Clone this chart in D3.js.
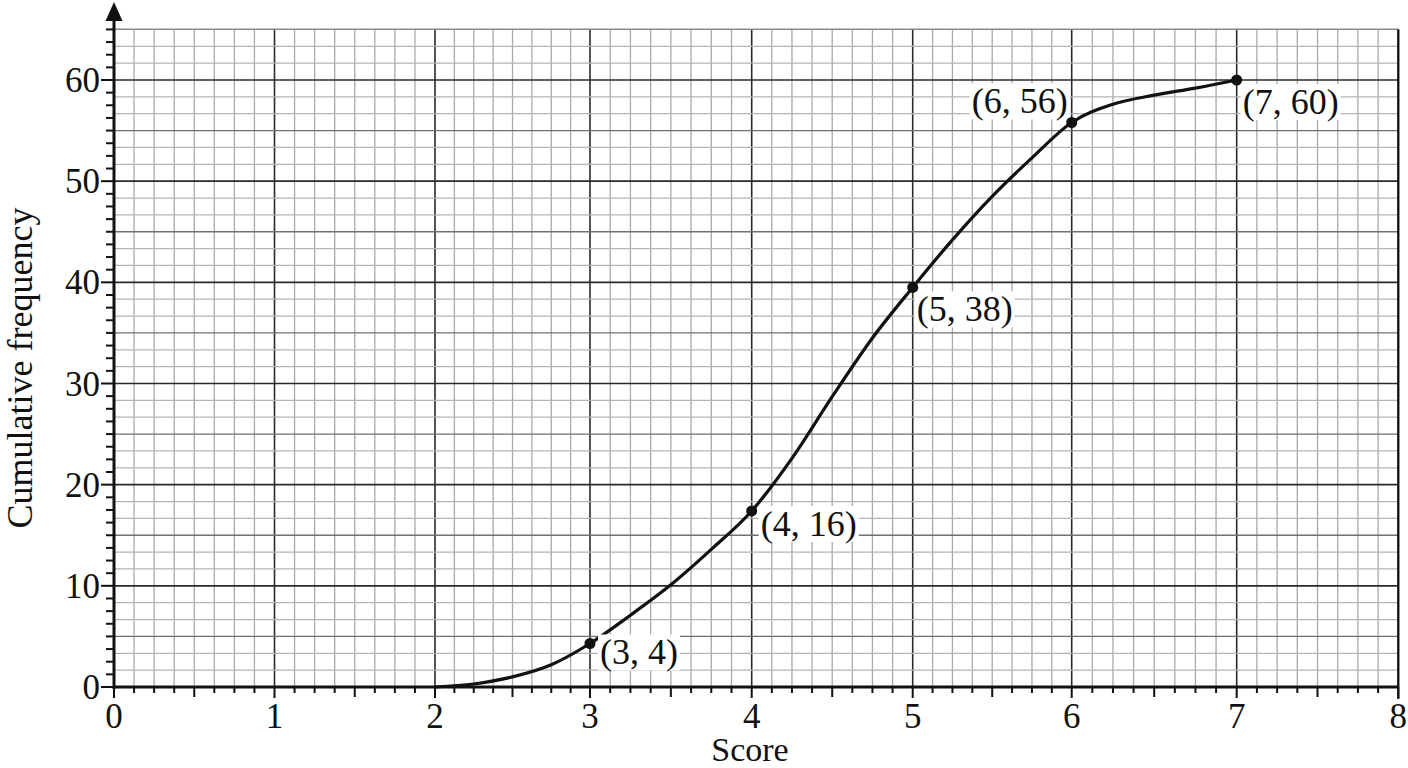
<!DOCTYPE html>
<html>
<head>
<meta charset="utf-8">
<script src="https://cdn.jsdelivr.net/npm/d3@7"></script>
<style>
  html, body { margin: 0; padding: 0; background: #fff; }
  svg { display: block; }
  text { font-family: "Liberation Serif", "Times New Roman", Times, serif; fill: #111; }
</style>
</head>
<body>
<svg id="chart" width="1408" height="768"></svg>
<script>
// ---- data ----
const xTickValues = [0, 1, 2, 3, 4, 5, 6, 7, 8];
const yTickValues = [0, 10, 20, 30, 40, 50, 60];
const xLabel = "Score";
const yLabel = "Cumulative frequency";

const pointX = [3, 4, 5, 6, 7];
const pointY = [4.3, 17.4, 39.5, 55.8, 60];
const pointLabels = ["(3, 4)", "(4, 16)", "(5, 38)", "(6, 56)", "(7, 60)"];

// curve
const curveX = [2, 2.25, 2.5, 2.75, 3, 3.25, 3.5, 3.75, 4, 4.25, 4.5, 4.75, 5, 5.25, 5.5, 5.75, 6, 6.25, 6.5, 6.75, 7];
const curveY = [0, 0.3, 1.0, 2.2, 4.3, 7.1, 10.1, 13.6, 17.4, 22.6, 28.7, 34.5, 39.5, 44.2, 48.5, 52.3, 55.8, 57.6, 58.5, 59.2, 60];

// ---- layout (not data) ----
// the scanned graph paper is slightly uneven horizontally
const xRangeStops = [114, 274.5, 435, 590, 751.7, 912.7, 1071.7, 1236.7, 1398.3];
const labelLayout = [
  { dx: 10, dy: 21, anchor: "start" },
  { dx: 9, dy: 25, anchor: "start" },
  { dx: 4, dy: 34, anchor: "start" },
  { dx: -4, dy: -9, anchor: "end" },
  { dx: 6, dy: 34, anchor: "start" }
];

const svg = d3.select("#chart");
const x = d3.scaleLinear().domain(xTickValues).range(xRangeStops);
const y = d3.scaleLinear().domain([0, 60]).range([687, 80]);
const yTop = 65;

const isInt = d => Math.abs(d - Math.round(d)) < 1e-9;

const gGrid = svg.append("g");
const vLines = d3.range(0, 8 * 8 + 1).map(i => i / 8);
gGrid.selectAll("line.v").data(vLines).enter().append("line")
  .attr("x1", d => x(d)).attr("x2", d => x(d))
  .attr("y1", y(0)).attr("y2", y(yTop))
  .attr("stroke", d => isInt(d) ? "#2a2a2a" : "#a8a8a8")
  .attr("stroke-width", d => isInt(d) ? 1.6 : 1.3);

const hLines = d3.range(0, 40).map(i => i * 5 / 3);
function hType(v) {
  const r10 = v / 10, r5 = v / 5;
  if (Math.abs(r10 - Math.round(r10)) < 1e-6) return 2;
  if (Math.abs(r5 - Math.round(r5)) < 1e-6) return 1;
  return 0;
}
gGrid.selectAll("line.h").data(hLines).enter().append("line")
  .attr("x1", x(0)).attr("x2", x(8))
  .attr("y1", d => y(d)).attr("y2", d => y(d))
  .attr("stroke", d => ["#b4b4b4", "#707070", "#2a2a2a"][hType(d)])
  .attr("stroke-width", d => [1.3, 1.4, 1.6][hType(d)]);

gGrid.append("line").attr("x1", x(0)).attr("x2", x(8))
  .attr("y1", y(yTop)).attr("y2", y(yTop)).attr("stroke", "#888").attr("stroke-width", 1.4);
gGrid.append("line").attr("x1", x(8)).attr("x2", x(8))
  .attr("y1", y(yTop)).attr("y2", y(0) + 12).attr("stroke", "#111").attr("stroke-width", 2.2);

// ---- axes ----
const gAxes = svg.append("g");
const xMinor = d3.range(0, 8 * 8 + 1).map(i => i / 8);
gAxes.selectAll("line.xt").data(xMinor).enter().append("line")
  .attr("x1", d => x(d)).attr("x2", d => x(d))
  .attr("y1", y(0))
  .attr("y2", d => {
    if (isInt(d)) return y(0) + 11;
    if (isInt(d * 2)) return y(0) + 10;
    return y(0) + 6;
  })
  .attr("stroke", "#111").attr("stroke-width", 2);

const yMinor = d3.range(0, 53).map(i => i * 1.25);
gAxes.selectAll("line.yt").data(yMinor).enter().append("line")
  .attr("x1", x(0))
  .attr("x2", d => isInt(d / 10) ? x(0) - 13 : x(0) - 8)
  .attr("y1", d => y(d)).attr("y2", d => y(d))
  .attr("stroke", "#111").attr("stroke-width", 2);

gAxes.append("line").attr("x1", x(0)).attr("x2", x(8))
  .attr("y1", y(0)).attr("y2", y(0)).attr("stroke", "#111").attr("stroke-width", 3.2);
gAxes.append("line").attr("x1", x(0)).attr("x2", x(0))
  .attr("y1", y(0) + 2).attr("y2", 14).attr("stroke", "#111").attr("stroke-width", 3);
gAxes.append("path")
  .attr("d", `M${x(0)},2 L${x(0) - 8.5},21 L${x(0) + 8.5},21 Z`)
  .attr("fill", "#111");

gAxes.selectAll("text.xl").data(xTickValues).enter().append("text")
  .attr("x", d => x(d)).attr("y", 728)
  .attr("text-anchor", "middle").attr("font-size", 35)
  .text(d => d);
gAxes.selectAll("text.yl").data(yTickValues).enter().append("text")
  .attr("x", 100).attr("y", d => y(d) + 12)
  .attr("text-anchor", "end").attr("font-size", 35)
  .text(d => d);

svg.append("text").attr("x", 750).attr("y", 761)
  .attr("text-anchor", "middle").attr("font-size", 34).text(xLabel);
svg.append("text")
  .attr("transform", "translate(32,368) rotate(-90)")
  .attr("text-anchor", "middle").attr("font-size", 36).text(yLabel);

// ---- curve ----
const curveData = curveX.map((v, i) => [v, curveY[i]]);
svg.append("path")
  .datum(curveData)
  .attr("d", d3.line().x(d => x(d[0])).y(d => y(d[1])).curve(d3.curveMonotoneX))
  .attr("fill", "none").attr("stroke", "#111").attr("stroke-width", 3.2)
  .attr("stroke-linejoin", "round");

// ---- labels with white backgrounds ----
const pts = pointX.map((v, i) => ({ x: v, y: pointY[i], label: pointLabels[i], lay: labelLayout[i] }));
const gLab = svg.append("g");
pts.forEach(p => {
  const t = gLab.append("text")
    .attr("x", x(p.x) + p.lay.dx).attr("y", y(p.y) + p.lay.dy)
    .attr("text-anchor", p.lay.anchor).attr("font-size", 36)
    .text(p.label);
  const bb = t.node().getBBox();
  gLab.insert("rect", "text")
    .attr("x", bb.x - 2).attr("y", bb.y + 2)
    .attr("width", bb.width + 4).attr("height", bb.height - 4)
    .attr("fill", "#fff");
});

svg.selectAll("circle.pt").data(pts).enter().append("circle")
  .attr("cx", d => x(d.x)).attr("cy", d => y(d.y)).attr("r", 5.5)
  .attr("fill", "#111");
</script>
</body>
</html>
